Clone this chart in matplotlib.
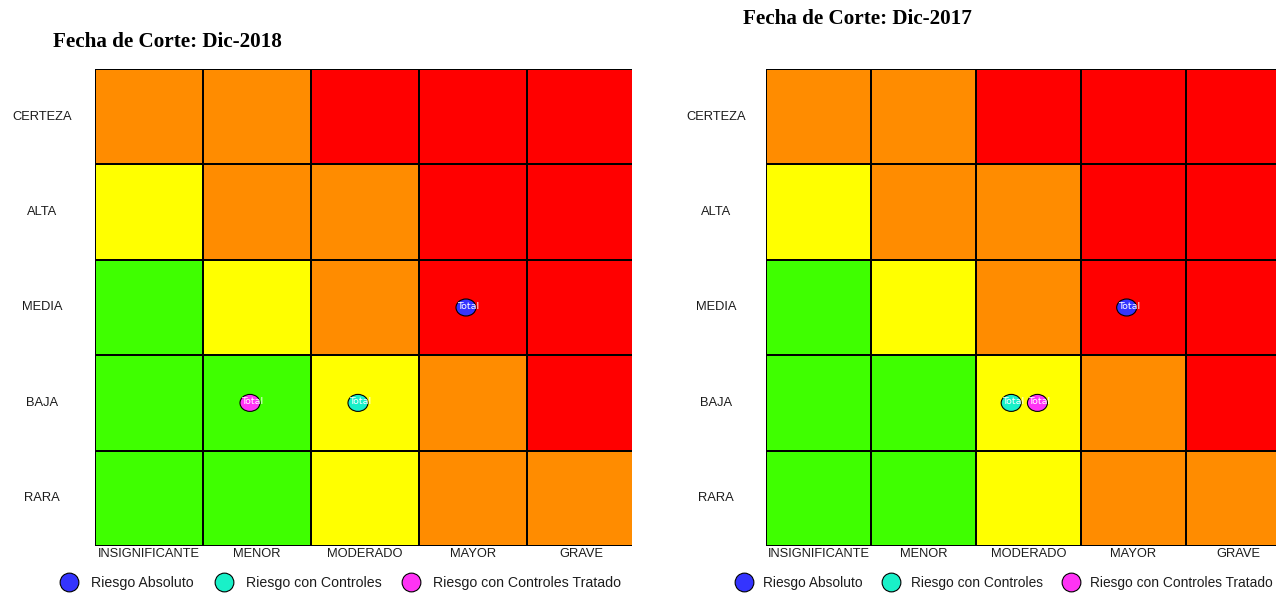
import matplotlib
matplotlib.use('Agg')
import numpy as np
import matplotlib.pyplot as plt
from matplotlib.colors import ListedColormap
from matplotlib.patches import Ellipse
from matplotlib.lines import Line2D

# categorias de la matriz
impacto = ['INSIGNIFICANTE', 'MENOR', 'MODERADO', 'MAYOR', 'GRAVE']
probabilidad = ['RARA', 'BAJA', 'MEDIA', 'ALTA', 'CERTEZA']   # de abajo hacia arriba

# nivel de riesgo por celda (0 bajo, 1 moderado, 2 alto, 3 extremo)
nivel = [
    [0, 0, 1, 2, 2],   # RARA
    [0, 0, 1, 2, 3],   # BAJA
    [0, 1, 2, 3, 3],   # MEDIA
    [1, 2, 2, 3, 3],   # ALTA
    [2, 2, 3, 3, 3],   # CERTEZA
]
colores_nivel = ['#3FFF00', '#FFFF00', '#FF8C00', '#FF0000']

series = ['Riesgo Absoluto', 'Riesgo con Controles', 'Riesgo con Controles Tratado']
colores_serie = ['#3434FF', '#19F0C8', '#FF33F5']

titulo_2018 = 'Fecha de Corte: Dic-2018'
impacto_2018 = ['MAYOR', 'MODERADO', 'MENOR']
prob_2018 = ['MEDIA', 'BAJA', 'BAJA']

titulo_2017 = 'Fecha de Corte: Dic-2017'
impacto_2017 = ['MAYOR', 'MODERADO', 'MODERADO']
prob_2017 = ['MEDIA', 'BAJA', 'BAJA']

TXT = '#1c1c1c'


def matriz(ax, imp, prob, xlim, ylab_off, leg_x, leg_size, leg_pad, leg_col):
    cmap = ListedColormap(colores_nivel)
    xe = np.arange(len(impacto) + 1) + 0.5
    ye = np.arange(len(probabilidad) + 1) + 0.5
    ax.pcolormesh(xe, ye, np.array(nivel), cmap=cmap, vmin=-0.5, vmax=3.5,
                  edgecolors='black', linewidth=1.3)
    ax.set_xlim(*xlim)
    ax.set_ylim(0.5, 5.5)
    for s in ax.spines.values():
        s.set_visible(False)

    ax.set_xticks(np.arange(1, 6))
    ax.set_xticklabels(impacto, fontsize=9.3, color=TXT, family='Liberation Sans')
    ax.tick_params(axis='x', length=0, pad=1.5)
    ax.set_yticks([])
    for j, p in enumerate(probabilidad):
        ax.annotate(p, xy=(0, j + 1), xycoords=('axes fraction', 'data'),
                    xytext=(ylab_off, 0), textcoords='offset points',
                    ha='center', va='center', fontsize=9.3, color=TXT,
                    family='Liberation Sans')

    # puntos de riesgo, separados cuando comparten celda
    celdas = list(zip(imp, prob))
    px = ax.bbox.width / (xlim[1] - xlim[0])
    py = ax.bbox.height / 5
    for k, (i, p) in enumerate(celdas):
        x = impacto.index(i) + 1 - 0.065
        y = probabilidad.index(p) + 1
        mismos = [n for n, c in enumerate(celdas) if c == (i, p)]
        if len(mismos) > 1:
            x += 0.025 + (mismos.index(k) - (len(mismos) - 1) / 2) * 0.25
        e = Ellipse((x, y), 20 / px, 17 / py, facecolor=colores_serie[k],
                    edgecolor='black', linewidth=0.8, zorder=3)
        ax.add_patch(e)
        ax.text(x + 2 / px, y + 1 / py, 'Total', ha='center', va='center',
                fontsize=6.8, color='white', zorder=4)

    handles = [Line2D([], [], marker='o', linestyle='none', markersize=13.5,
                      markerfacecolor=c, markeredgecolor='black', markeredgewidth=0.8)
               for c in colores_serie]
    ax.legend(handles, series, loc='center', bbox_to_anchor=(leg_x, -0.078),
              ncol=3, frameon=False, handlelength=1.4, handletextpad=leg_pad,
              columnspacing=leg_col, borderaxespad=0,
              prop={'family': 'Liberation Sans', 'size': leg_size}, labelcolor=TXT)


fig = plt.figure(figsize=(12.76, 5.94), dpi=100)
ax1 = fig.add_axes([95 / 1276, 48 / 594, 537 / 1276, 477 / 594])
ax2 = fig.add_axes([766 / 1276, 48 / 594, 510 / 1276, 477 / 594])

matriz(ax1, impacto_2018, prob_2018, (0.5, 0.5 + 537 / 108), -38,
       0.457, 10.2, 0.85, 1.4)
matriz(ax2, impacto_2017, prob_2017, (0.5, 0.5 + 510 / 105), -36,
       0.466, 9.9, 0.72, 1.34)

fig.text(167 / 1276, 1 - 42 / 594, titulo_2018, ha='center', va='center',
         fontsize=15.2, fontweight='bold', family='Liberation Serif')
fig.text(857 / 1276, 1 - 19 / 594, titulo_2017, ha='center', va='center',
         fontsize=15.2, fontweight='bold', family='Liberation Serif')

fig.savefig('out.png', dpi=100)
